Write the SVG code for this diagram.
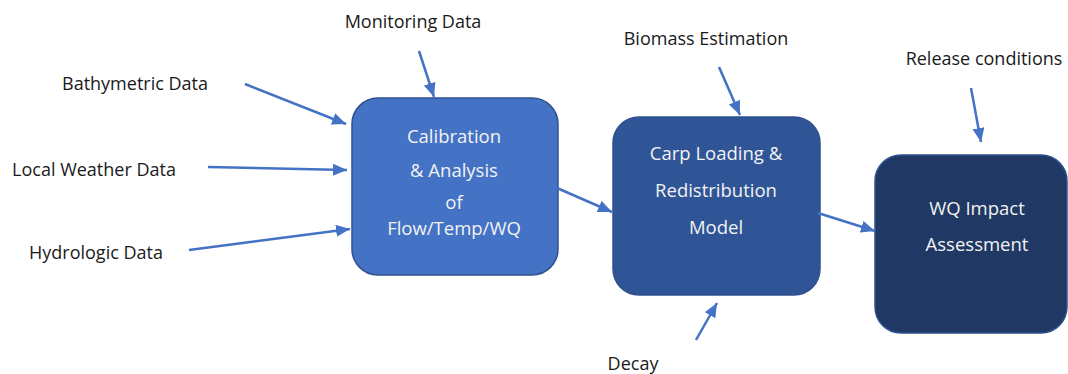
<svg xmlns="http://www.w3.org/2000/svg" width="1068" height="374" viewBox="0 0 1068 374">
<style>
.lbl{font-family:"Open Sans","Liberation Sans",sans-serif;font-size:18px;fill:#1a1a1a;text-anchor:middle}
.in{font-family:"Open Sans","Liberation Sans",sans-serif;font-size:18.5px;fill:#f2f2f2;text-anchor:middle}
.c{stroke:#4472C4;stroke-width:2.5;fill:none;marker-end:url(#ah)}
</style>
<defs>
<marker id="ah" markerUnits="userSpaceOnUse" markerWidth="16" markerHeight="14" refX="14" refY="6" orient="auto">
<path d="M0,0 L14,6 L0,12 Z" fill="#4472C4"/>
</marker>
</defs>
<rect width="1068" height="374" fill="#ffffff"/>
<g id="labels">
<text class="lbl" x="413" y="28">Monitoring Data</text>
<text class="lbl" x="135" y="90">Bathymetric Data</text>
<text class="lbl" x="94" y="176">Local Weather Data</text>
<text class="lbl" x="96" y="259">Hydrologic Data</text>
<text class="lbl" x="706" y="45">Biomass Estimation</text>
<text class="lbl" x="984" y="65">Release conditions</text>
<text class="lbl" x="633" y="370">Decay</text>
</g>
<g id="calibration">
<rect x="352" y="98" width="206" height="177" rx="26" fill="#4472C4" stroke="#2F528F" stroke-width="1.5"/>
<text class="in" x="454" y="143">Calibration</text>
<text class="in" x="454" y="177">&amp; Analysis</text>
<text class="in" x="454" y="209">of</text>
<text class="in" x="454" y="235">Flow/Temp/WQ</text>
</g>
<g id="carp">
<rect x="613" y="117" width="207" height="178" rx="26" fill="#2F5597" stroke="#2F528F" stroke-width="1.5"/>
<text class="in" x="716" y="160">Carp Loading &amp;</text>
<text class="in" x="716" y="197">Redistribution</text>
<text class="in" x="716" y="234">Model</text>
</g>
<g id="wq">
<rect x="875" y="155" width="192" height="178" rx="26" fill="#203864" stroke="#2F528F" stroke-width="1.5"/>
<text class="in" x="977" y="215">WQ Impact</text>
<text class="in" x="977" y="251">Assessment</text>
</g>
<g id="connectors">
<line class="c" x1="419" y1="51" x2="434" y2="97"/>
<line class="c" x1="245" y1="84" x2="346" y2="124"/>
<line class="c" x1="208" y1="167" x2="347" y2="170"/>
<line class="c" x1="189" y1="250" x2="350" y2="229"/>
<line class="c" x1="557" y1="188" x2="612" y2="212"/>
<line class="c" x1="818" y1="213" x2="875" y2="231"/>
<line class="c" x1="719" y1="67" x2="740" y2="115"/>
<line class="c" x1="971" y1="88" x2="981" y2="142"/>
<line class="c" x1="696" y1="340" x2="717" y2="303"/>
</g>
</svg>
